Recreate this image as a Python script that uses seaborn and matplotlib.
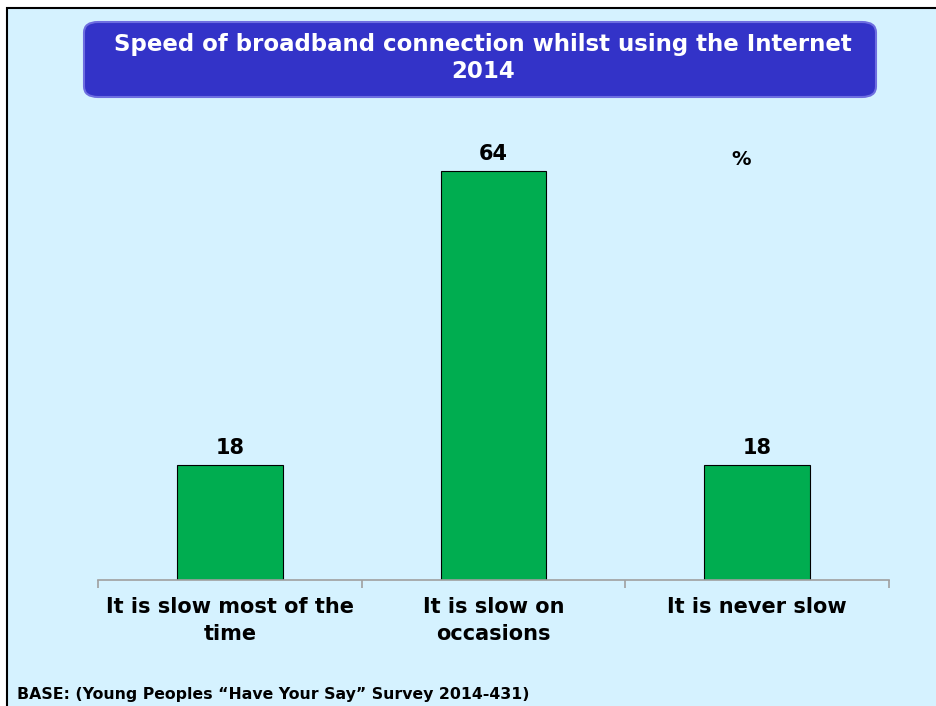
import matplotlib
matplotlib.use("Agg")
import numpy as np
import pandas as pd
import matplotlib.pyplot as plt
import seaborn as sns
from matplotlib.patches import FancyBboxPatch, Rectangle

categories = ["It is slow most of the\ntime", "It is slow on\noccasions", "It is never slow"]
values = [18, 64, 18]
title = "Speed of broadband connection whilst using the Internet\n2014"
base_note = "BASE: (Young Peoples \u201cHave Your Say\u201d Survey 2014-431)"

bg = "#D5F2FF"
green = "#00AD50"

df = pd.DataFrame({"cat": categories, "pct": values})

sns.set_style("white")
plt.rcParams["font.family"] = ["DejaVu Sans"]

fig = plt.figure(figsize=(9.36, 7.06), dpi=100)
fig.patch.set_facecolor("white")
# light blue panel with black frame
fig.patches.append(Rectangle((7 / 936, -0.01), 1.0, 1 - 8 / 706 + 0.01,
                             transform=fig.transFigure, facecolor=bg,
                             edgecolor="black", linewidth=1.5, zorder=-5))

ax = fig.add_axes([98 / 936, 1 - 580 / 706, (889 - 98) / 936, (580 - 133) / 706])
ax.set_facecolor("none")
ax.set_zorder(3)
sns.barplot(data=df, x="cat", y="pct", color=green, width=0.4,
            edgecolor="black", linewidth=0.8, ax=ax, saturation=1)
ax.set_ylim(0, 70)
ax.set_xlim(-0.5, 2.5)
ax.set_xlabel("")
ax.set_ylabel("")
ax.set_yticks([])
for s in ["top", "right", "left"]:
    ax.spines[s].set_visible(False)
ax.spines["bottom"].set_color("#A0A0A0")
ax.spines["bottom"].set_linewidth(1.2)
ax.set_xticks([-0.5, 0.5, 1.5, 2.5])
ax.set_xticklabels([])
ax.tick_params(axis="x", length=6, color="#A0A0A0", width=1.2, bottom=True)
for i, c in enumerate(categories):
    ax.text(i, -2.7, c, ha="center", va="top", fontsize=15, fontweight="bold",
            color="black", linespacing=1.4, clip_on=False)
for i, v in enumerate(values):
    ax.text(i, v + 1.1, str(v), ha="center", va="bottom", fontsize=15,
            fontweight="bold", color="black")
ax.text(1.94, 64.3, "%", ha="center", va="bottom", fontsize=14,
        fontweight="bold", color="black")

# title box
fig.patches.append(FancyBboxPatch((84 / 936, 1 - 97 / 706), (876 - 84) / 936, (97 - 22) / 706,
                                  boxstyle="round,pad=0,rounding_size=0.015",
                                  transform=fig.transFigure, facecolor="#3333C8",
                                  edgecolor="#6E6EE0", linewidth=1.5, zorder=1))
fig.text(483 / 936, 1 - 58 / 706, title, ha="center", va="center", fontsize=16.5,
         fontweight="bold", color="white", linespacing=1.2, zorder=2)

fig.text(17 / 936, 1 - 695 / 706, base_note, ha="left", va="center", fontsize=11.3,
         fontweight="bold", color="black")

fig.savefig("out.png", dpi=100, facecolor=fig.get_facecolor())
